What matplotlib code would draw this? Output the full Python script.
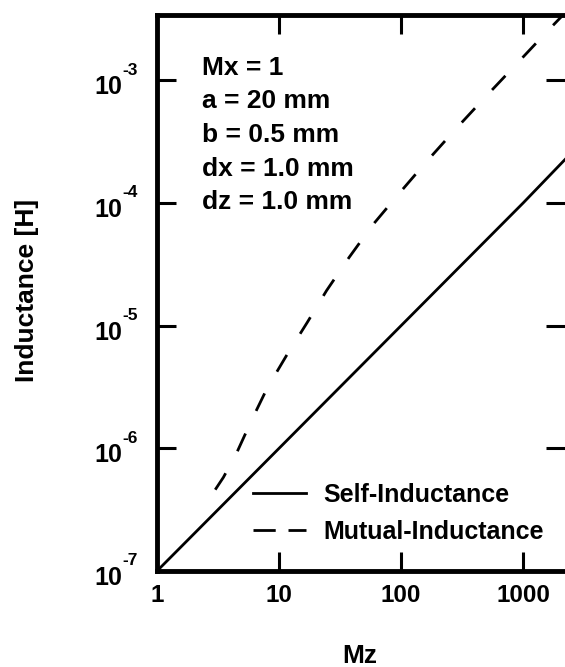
import matplotlib
matplotlib.use("Agg")
import matplotlib.pyplot as plt
from matplotlib.lines import Line2D
from matplotlib.ticker import FixedLocator, NullLocator

plt.rcParams['font.family'] = ['Liberation Sans', 'DejaVu Sans']
plt.rcParams['font.weight'] = 'bold'

# Data
self_mz = [1, 10, 100, 1000, 2240]
self_L = [1e-7, 1e-6, 1e-5, 1e-4, 2.3e-4]

mutual_mz = [3.0, 3.5, 4.5, 6.0, 8.0, 11.5, 17, 24.5, 37.5, 58, 96, 160, 280, 490, 860, 1560, 2240]
mutual_L = [4.6e-7, 5.8e-7, 9.2e-7, 1.72e-6, 3.1e-6, 5.7e-6, 1.06e-5, 1.93e-5,
            3.6e-5, 6.55e-5, 1.19e-4, 2.15e-4, 4.0e-4, 7.3e-4, 1.32e-3, 2.48e-3, 3.6e-3]

series_labels = ['Self-Inductance', 'Mutual-Inductance']

x_ticks = [1, 10, 100, 1000]
x_ticklabels = ['1', '10', '100', '1000']
y_ticks = [1e-7, 1e-6, 1e-5, 1e-4, 1e-3]
y_base = '10'
y_exponents = ['-7', '-6', '-5', '-4', '-3']

params_text = ['Mx = 1', 'a = 20 mm', 'b = 0.5 mm', 'dx = 1.0 mm', 'dz = 1.0 mm']

fig = plt.figure(figsize=(5.65, 6.67), dpi=100)
ax = fig.add_axes([157/565, 1 - 571/667, 1 - 157/565, (571 - 15)/667])

ax.plot(self_mz, self_L, color='black', lw=2.0)
ax.plot(mutual_mz, mutual_L, color='black', lw=2.0, dashes=(7, 9))

ax.set_xscale('log')
ax.set_yscale('log')
ax.set_xlim(1, 2200)
ax.set_ylim(1e-7, 3.4e-3)

ax.xaxis.set_major_locator(FixedLocator(x_ticks))
ax.xaxis.set_minor_locator(NullLocator())
ax.yaxis.set_major_locator(FixedLocator(y_ticks))
ax.yaxis.set_minor_locator(NullLocator())
ax.set_xticklabels(x_ticklabels)
ax.set_yticklabels([''] * len(y_ticks))

ax.tick_params(axis='both', which='major', direction='in', length=14, width=2.2,
               top=True, right=True, labelsize=17.5)
ax.tick_params(axis='x', pad=9)

for side in ['left', 'bottom', 'top']:
    ax.spines[side].set_linewidth(3.5)
ax.spines['right'].set_visible(False)

# y tick labels: base + raised exponent
ytr = ax.get_yaxis_transform()
for v, e in zip(y_ticks, y_exponents):
    ax.annotate(y_base, xy=(0, v), xycoords=ytr, xytext=(-35, -7),
                textcoords='offset pixels', ha='right', va='center',
                fontsize=18, fontweight='bold', annotation_clip=False)
    ax.annotate(e, xy=(0, v), xycoords=ytr, xytext=(-35, 10),
                textcoords='offset pixels', ha='left', va='center',
                fontsize=12.5, fontweight='bold', annotation_clip=False)

ax.set_xlabel('Mz', fontsize=19, fontweight='bold', va='center')
ax.xaxis.set_label_coords(360/565, 1 - 656/667, transform=fig.transFigure)
ax.set_ylabel('Inductance [H]', fontsize=19, fontweight='bold', va='center')
ax.yaxis.set_label_coords(27/565, 1 - 290/667, transform=fig.transFigure)

for i, t in enumerate(params_text):
    fig.text(202/565, 1 - (68 + 33.5*i)/667, t, fontsize=19, fontweight='bold',
             ha='left', va='center')

handles = [Line2D([], [], color='black', lw=2.0),
           Line2D([], [], color='black', lw=2.0, dashes=(8, 4.6))]
leg = ax.legend(handles, series_labels, loc='center left', frameon=False, fontsize=18,
                handlelength=2.1, handletextpad=0.72, labelspacing=0.52, borderpad=0,
                borderaxespad=0, bbox_to_anchor=(253/565, 1 - 513.5/667),
                bbox_transform=fig.transFigure)

fig.savefig('out.png', dpi=100)
